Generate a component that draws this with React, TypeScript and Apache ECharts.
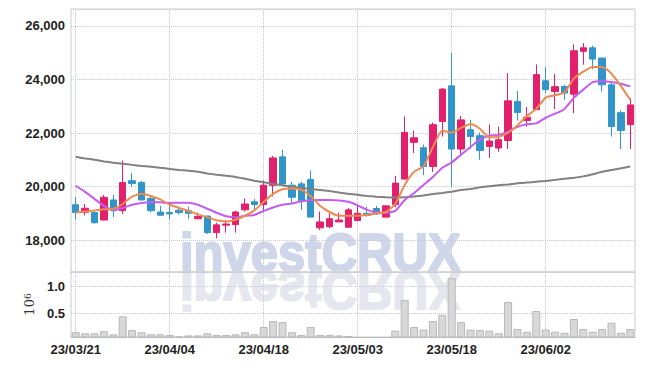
import React, { useEffect, useRef } from 'react';
import * as echarts from 'echarts';

const dates = [
  '23/03/21', '23/03/22', '23/03/23', '23/03/24', '23/03/27', '23/03/28', '23/03/29', '23/03/30', '23/03/31', '23/04/03',
  '23/04/04', '23/04/05', '23/04/06', '23/04/07', '23/04/10', '23/04/11', '23/04/12', '23/04/13', '23/04/14', '23/04/17',
  '23/04/18', '23/04/19', '23/04/20', '23/04/21', '23/04/24', '23/04/25', '23/04/26', '23/04/27', '23/04/28', '23/05/02',
  '23/05/03', '23/05/04', '23/05/08', '23/05/09', '23/05/10', '23/05/11', '23/05/12', '23/05/15', '23/05/16', '23/05/17',
  '23/05/18', '23/05/19', '23/05/22', '23/05/23', '23/05/24', '23/05/25', '23/05/26', '23/05/30', '23/05/31', '23/06/01',
  '23/06/02', '23/06/05', '23/06/07', '23/06/08', '23/06/09', '23/06/12', '23/06/13', '23/06/14', '23/06/15', '23/06/16',
];

const opens = [
  19320, 19040, 19030, 18750, 19500, 19100, 20220, 20150, 19550, 19050,
  19030, 19120, 19100, 18800, 18900, 18280, 18560, 18580, 19130, 19430,
  19330, 20050, 21110, 20050, 20100, 20260, 18460, 18500, 18680, 18480,
  18730, 19000, 19180, 18860, 19330, 20280, 21650, 21450, 20750, 22430,
  23760, 21400, 22120, 21900, 21500, 21440, 21720, 23180, 22470, 22870,
  23950, 23550, 23740, 23450, 25050, 25180, 24800, 23800, 22760, 22310,
];
const closes = [
  19030, 19190, 18650, 19600, 19100, 20150, 20110, 19500, 19100, 18930,
  18980, 19030, 19000, 18880, 18280, 18570, 18600, 19050, 19350, 19330,
  20050, 21070, 20100, 19600, 19450, 18860, 18680, 18800, 18750, 19130,
  19000, 18920, 18980, 19280, 20130, 22020, 21820, 20750, 22310, 23640,
  21400, 22490, 21870, 21350, 21700, 21750, 23200, 22770, 22590, 24180,
  23620, 23730, 23490, 25070, 25180, 24760, 23800, 22240, 22090, 23050,
];
const lows = [
  18780, 18920, 18620, 18740, 18860, 18980, 20000, 19480, 19030, 18930,
  18780, 18950, 18800, 18800, 18230, 18070, 18280, 18280, 19070, 19130,
  19030, 19630, 20100, 19390, 19130, 18860, 18380, 18450, 18680, 18480,
  18730, 18880, 18940, 18850, 19230, 20280, 21250, 20430, 20550, 21870,
  20000, 21220, 21400, 21000, 21070, 21300, 21400, 22470, 22240, 22860,
  23490, 22890, 23240, 22740, 24550, 24390, 23550, 21870, 21400, 21400,
];
const highs = [
  19600, 19350, 19070, 19680, 19690, 20970, 20500, 20210, 19630, 19280,
  19280, 19250, 19250, 19030, 18900, 18650, 18750, 19100, 19550, 19530,
  20230, 21150, 21370, 20180, 20180, 20600, 19070, 19000, 19030, 19200,
  19280, 19250, 19280, 19290, 20400, 22620, 22090, 21570, 22390, 23680,
  24990, 22640, 22490, 22020, 22320, 22240, 24240, 23570, 22970, 24560,
  24460, 24210, 23800, 25310, 25360, 25260, 24800, 23870, 22840, 23300,
];

const ma5 = [
  19030, 19070, 19110, 19150, 19170, 19350, 19620, 19730, 19650, 19520,
  19320, 19200, 19090, 18960, 18850, 18740, 18700, 18760, 18910, 19110,
  19430, 19730, 19900, 19930, 19880, 19650, 19280, 19050, 18910, 18910,
  18910, 18940, 19000, 19050, 19350, 20060, 20550, 20750, 21480, 22080,
  22020, 22190, 22340, 22160, 21840, 21860, 22010, 22290, 22640, 22900,
  23320, 23410, 23520, 24030, 24290, 24460, 24460, 24210, 23750, 23240,
];
const ma20 = [
  20030, 19800, 19540, 19280, 19130, 19200, 19320, 19390, 19410, 19410,
  19390, 19400, 19400, 19320, 19170, 19020, 18890, 18850, 18910, 18940,
  19090, 19220, 19320, 19370, 19450, 19490, 19500, 19500, 19480, 19430,
  19300, 19130, 19040, 19020, 19090, 19500, 19760, 20060, 20360, 20700,
  20900, 21190, 21480, 21750, 21900, 21930, 22050, 22230, 22330, 22360,
  22570, 22720, 22900, 23320, 23620, 23900, 23930, 23900, 23840, 23740,
];
const ma120 = [
  21110, 21050, 21000, 20940, 20890, 20850, 20810, 20770, 20740, 20700,
  20660, 20620, 20590, 20550, 20490, 20440, 20400, 20360, 20290, 20220,
  20160, 20100, 20050, 19990, 19950, 19910, 19870, 19830, 19780, 19730,
  19690, 19650, 19620, 19600, 19590, 19600, 19630, 19670, 19720, 19760,
  19810, 19870, 19910, 19970, 20010, 20050, 20080, 20120, 20150, 20180,
  20210, 20250, 20290, 20330, 20380, 20460, 20550, 20620, 20680, 20750,
];

// volume in millions of shares
const volumes = [
  0.14, 0.12, 0.12, 0.16, 0.10, 0.44, 0.18, 0.14, 0.10, 0.10,
  0.09, 0.06, 0.08, 0.08, 0.12, 0.09, 0.09, 0.10, 0.14, 0.10,
  0.24, 0.35, 0.33, 0.14, 0.09, 0.24, 0.09, 0.09, 0.08, 0.07,
  0.04, 0.04, 0.04, 0.04, 0.17, 0.75, 0.24, 0.19, 0.35, 0.47,
  1.16, 0.33, 0.19, 0.18, 0.17, 0.12, 0.71, 0.20, 0.15, 0.54,
  0.19, 0.15, 0.13, 0.39, 0.20, 0.15, 0.20, 0.32, 0.13, 0.20,
];

const priceTicks = [18000, 20000, 22000, 24000, 26000];
const volumeTicks = [0.5, 1.0];

const UP = '#e3206b';
const DOWN = '#3195c9';
const LABEL_FONT = '"Liberation Sans", Arial, sans-serif';
const GRID_LINE = { color: '#c8c8dc', type: 'dotted' as const, width: 1 };

export default function App() {
  const ref = useRef<HTMLDivElement>(null);

  useEffect(() => {
    document.body.style.margin = '0';
    const chart = echarts.init(ref.current!, null, { renderer: 'svg' });

    const candleData = dates.map((_, i) => [opens[i], closes[i], lows[i], highs[i]]);

    const labelStyle = { fontFamily: LABEL_FONT, fontSize: 13, fontWeight: 'bold' as const, color: '#222222' };

    const wmStyle = {
      text: 'investCRUX',
      fontFamily: '"Liberation Sans", Arial, sans-serif',
      fontSize: 53,
      fontWeight: 'bold' as const,
      align: 'left' as const,
      verticalAlign: 'middle' as const,
      lineWidth: 2,
    };

    chart.setOption({
      animation: false,
      backgroundColor: '#ffffff',
      grid: [
        { left: 71, right: 10, top: 9, height: 263, show: true, borderColor: '#cccccc', borderWidth: 1 },
        { left: 71, right: 10, top: 272, height: 65, show: true, borderColor: '#cccccc', borderWidth: 1 },
      ],
      xAxis: [
        {
          type: 'category', gridIndex: 0, data: dates, boundaryGap: true,
          axisLabel: { show: false }, axisTick: { show: false }, axisLine: { show: false },
          splitLine: { show: true, interval: 9, alignWithLabel: true, lineStyle: GRID_LINE },
        },
        {
          type: 'category', gridIndex: 1, data: dates, boundaryGap: true,
          axisLabel: { ...labelStyle, interval: 9, margin: 6 },
          axisTick: { show: false },
          axisLine: { show: true, lineStyle: { color: '#bbbbbb' } },
          splitLine: { show: true, interval: 9, alignWithLabel: true, lineStyle: GRID_LINE },
        },
      ],
      yAxis: [
        {
          type: 'value', gridIndex: 0, min: 16810, max: 26630, splitNumber: 5, scale: true,
          axisLine: { show: false }, axisTick: { show: false },
          axisLabel: {
            ...labelStyle, margin: 6,
            formatter: (v: number) => (priceTicks.includes(Math.round(v)) ? Math.round(v).toLocaleString('en-US') : ''),
          },
          splitLine: { show: true, lineStyle: GRID_LINE },
        },
        {
          type: 'value', gridIndex: 1, min: 0.05, max: 1.276, splitNumber: 2,
          axisLine: { show: false }, axisTick: { show: false },
          axisLabel: {
            ...labelStyle, margin: 6,
            formatter: (v: number) => (volumeTicks.includes(Math.round(v * 100) / 100) ? v.toFixed(1) : ''),
          },
          splitLine: { show: true, lineStyle: GRID_LINE },
          name: '{a|10}{b|6}', nameLocation: 'middle', nameRotate: 90, nameGap: 32,
          nameTextStyle: {
            color: '#333333',
            rich: {
              a: { fontFamily: '"DejaVu Serif", serif', fontSize: 13, color: '#333333' },
              b: { fontFamily: '"DejaVu Serif", serif', fontSize: 9, color: '#333333', verticalAlign: 'top' },
            },
          },
        },
      ],
      graphic: [
        {
          type: 'text', x: 180, y: 253.3, scaleX: 0.925, z: -10, silent: true,
          style: { ...wmStyle, fill: '#d0d6ea', stroke: '#d0d6ea' },
        },
        {
          type: 'text', x: 180, y: 290.4, scaleX: 0.925, scaleY: -1, z: -10, silent: true,
          style: { ...wmStyle, fill: '#e6e6ef', stroke: '#e6e6ef' },
        },
      ],
      series: [
        {
          type: 'candlestick', xAxisIndex: 0, yAxisIndex: 0, data: candleData, barWidth: 7,
          itemStyle: { color: UP, color0: DOWN, borderColor: UP, borderColor0: DOWN, borderWidth: 1 },
        },
        {
          type: 'line', xAxisIndex: 0, yAxisIndex: 0, data: ma120, showSymbol: false, smooth: 0.2,
          lineStyle: { color: '#808080', width: 2 },
        },
        {
          type: 'line', xAxisIndex: 0, yAxisIndex: 0, data: ma20, showSymbol: false, smooth: 0.2,
          lineStyle: { color: '#c45cf0', width: 2 },
        },
        {
          type: 'line', xAxisIndex: 0, yAxisIndex: 0, data: ma5, showSymbol: false, smooth: 0.2,
          lineStyle: { color: '#ef8a52', width: 2 },
        },
        {
          type: 'bar', xAxisIndex: 1, yAxisIndex: 1, data: volumes, barWidth: 8,
          itemStyle: { color: '#d8d8d8', borderColor: '#b8b8b8', borderWidth: 1 },
        },
      ],
    });

    return () => chart.dispose();
  }, []);

  return <div ref={ref} style={{ width: 645, height: 366, background: '#ffffff' }} />;
}
